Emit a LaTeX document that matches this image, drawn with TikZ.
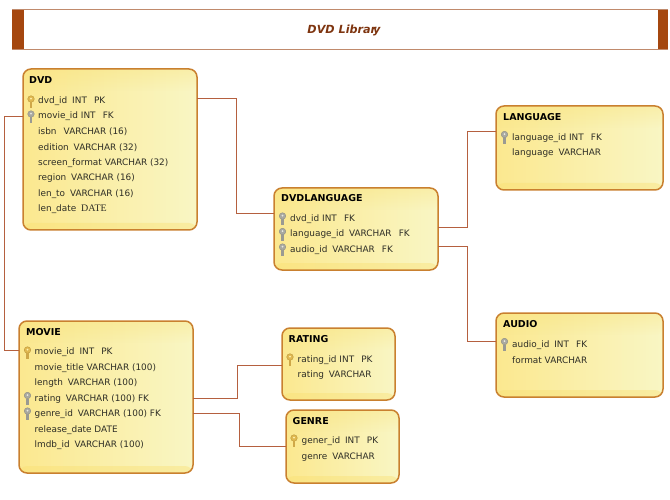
\documentclass[tikz,border=0pt]{standalone}
\usepackage{fontspec}
\usetikzlibrary{fadings}
\setmainfont{DejaVu Sans}
\definecolor{brown1}{HTML}{A5470F}
\definecolor{edge}{HTML}{C9802F}
\definecolor{conn}{HTML}{B5603F}
\definecolor{titlec}{HTML}{7E3510}
\definecolor{rowc}{HTML}{2E2E26}
\definecolor{fillL}{HTML}{FBE88F}
\definecolor{fillR}{HTML}{F9F6C4}
\definecolor{band}{HTML}{F9DF70}
\definecolor{goldk}{HTML}{E0B850}
\definecolor{goldl}{HTML}{B08A30}
\definecolor{golds}{HTML}{CFA848}
\definecolor{goldh}{HTML}{FFF3B0}
\definecolor{greyk}{HTML}{A9A9A0}
\definecolor{greyl}{HTML}{85857D}
\definecolor{greys}{HTML}{9A9A92}
\definecolor{greyh}{HTML}{E8E8E0}
\definecolor{rulec}{HTML}{C08A6C}
\tikzset{
  tbl/.style={draw=edge,line width=1.5pt,rounded corners=8pt,anchor=north west,outer sep=0pt,inner sep=0pt,
    left color=fillL,right color=fillR,
    path picture={\fill[band,opacity=.4] ([yshift=7pt]path picture bounding box.south west) rectangle (path picture bounding box.south east);
      \fill[band,opacity=.3,path fading=south] (path picture bounding box.north west) rectangle ([yshift=-22pt]path picture bounding box.north east);}},
  head/.style={anchor=west,inner sep=0pt,font=\fontsize{9.5}{11}\bfseries,text=black},
  rowt/.style={anchor=west,inner sep=0pt,font=\fontsize{8.9}{11}\selectfont,text=rowc},
  link/.style={draw=conn,line width=1pt},
  keygold/.pic={\fill[goldk,draw=goldl,line width=.3pt] (0,-3) circle (3.3);
     \fill[golds] (-1.1,0) rectangle (1.1,6.4);\fill[goldh] (0,-3.4) circle (1);},
  keygrey/.pic={\fill[greyk,draw=greyl,line width=.3pt] (0,-3) circle (3.3);
     \fill[greys] (-1.1,0) rectangle (1.1,6.4);\fill[greyh] (0,-3.4) circle (1);},
}
\newcommand{\sep}{\hspace{.55em}}
\newcommand{\gap}{\hspace{.8em}}
\begin{document}
\begin{tikzpicture}[x=1pt,y=-1pt]
\useasboundingbox (0,0) rectangle (670,500);
% title band
\fill[brown1] (12,9.5) rectangle (24,49.5);
\fill[brown1] (658,9.5) rectangle (668,49.5);
\draw[rulec,line width=.8pt] (12,9.5) -- (668,9.5);
\draw[rulec,line width=.8pt] (12,49.5) -- (668,49.5);
\node[font=\fontsize{11.2}{13}\bfseries\itshape,text=titlec,inner sep=0pt] (title) at (344,30.5) {DVD Librar\kern-3pt y};
% tables
\node[tbl,minimum width=174pt,minimum height=161pt] (dvd) at (23,69) {};
\node[tbl,minimum width=174pt,minimum height=152pt] (movie) at (19,321) {};
\node[tbl,minimum width=113pt,minimum height=72pt] (rating) at (282,328) {};
\node[tbl,minimum width=113pt,minimum height=73pt] (genre) at (286,410) {};
\node[tbl,minimum width=164pt,minimum height=82pt] (dvdlang) at (274,188) {};
\node[tbl,minimum width=167pt,minimum height=84pt] (language) at (496,106) {};
\node[tbl,minimum width=167pt,minimum height=84pt] (audio) at (496,313) {};
% connectors
\draw[link] ([yshift=-29.5pt]dvd.north east) -- ++(39,0) |- ([yshift=-26pt]dvdlang.north west);
\draw[link] ([yshift=-48pt]dvd.north west) -- ++(-19,0) |- ([yshift=-29pt]movie.north west);
\draw[link] ([yshift=-77pt]movie.north east) -- ++(44.5,0) |- ([yshift=-37pt]rating.north west);
\draw[link] ([yshift=-92pt]movie.north east) -- ++(46,0) |- ([yshift=-36pt]genre.north west);
\draw[link] ([yshift=-40pt]dvdlang.north east) -- ++(29,0) |- ([yshift=-26pt]language.north west);
\draw[link] ([yshift=-58pt]dvdlang.north east) -- ++(29,0) |- ([yshift=-28pt]audio.north west);
% DVD
\node[head] (h1) at (29,80) {DVD};
\node[rowt] (a1) at (38,101) {dvd\_id\sep INT\gap PK};
\node[rowt] (a2) at (38,116.5) {movie\_id INT\gap FK};
\node[rowt] (a3) at (38,132) {isbn\gap VARCHAR (16)};
\node[rowt] (a4) at (38,147.5) {edition\sep VARCHAR (32)};
\node[rowt] (a5) at (38,163) {screen\_format VARCHAR (32)};
\node[rowt] (a6) at (38,178.5) {region\sep VARCHAR (16)};
\node[rowt] (a7) at (38,194) {len\_to\sep VARCHAR (16)};
\node[rowt] (a8) at (38,209.5) {len\_date\sep {\fontspec{Liberation Serif}\fontsize{10}{11}\selectfont DATE}};
\pic at (31,102) {keygold};
\pic at (31,117) {keygrey};
% MOVIE
\node[head] (h2) at (26,332) {MOVIE};
\node[rowt] (b1) at (34.5,352.5) {movie\_id\sep INT\gap PK};
\node[rowt] (b2) at (34.5,368) {movie\_title VARCHAR (100)};
\node[rowt] (b3) at (34.5,383.5) {length\sep VARCHAR (100)};
\node[rowt] (b4) at (34.5,399) {rating\sep VARCHAR (100) FK};
\node[rowt] (b5) at (34.5,414.5) {genre\_id\sep VARCHAR (100) FK};
\node[rowt] (b6) at (34.5,430) {release\_date DATE};
\node[rowt] (b7) at (34.5,445.5) {lmdb\_id\sep VARCHAR (100)};
\pic at (27.5,353) {keygold};
\pic at (27.5,398.5) {keygrey};
\pic at (27.5,414) {keygrey};
% RATING
\node[head] (h3) at (288.5,339) {RATING};
\node[rowt] (c1) at (297.5,360) {rating\_id INT\gap PK};
\node[rowt] (c2) at (297.5,375.5) {rating\sep VARCHAR};
\pic at (290,360) {keygold};
% GENRE
\node[head] (h4) at (292.5,421) {GENRE};
\node[rowt] (d1) at (301.5,441.5) {gener\_id\sep INT\gap PK};
\node[rowt] (d2) at (301.5,457) {genre\sep VARCHAR};
\pic at (294,441) {keygold};
% DVDLANGUAGE
\node[head] (h5) at (281,198.5) {DVDLANGUAGE};
\node[rowt] (e1) at (290,219) {dvd\_id INT\gap FK};
\node[rowt] (e2) at (290,234.5) {language\_id\sep VARCHAR\gap FK};
\node[rowt] (e3) at (290,250) {audio\_id\sep VARCHAR\gap FK};
\pic at (282.5,219) {keygrey};
\pic at (282.5,234.5) {keygrey};
\pic at (282.5,250) {keygrey};
% LANGUAGE
\node[head] (h6) at (503,117.5) {LANGUAGE};
\node[rowt] (f1) at (512,138) {language\_id INT\gap FK};
\node[rowt] (f2) at (512,153.5) {language\sep VARCHAR};
\pic at (504.5,137.5) {keygrey};
% AUDIO
\node[head] (h7) at (503,324.5) {AUDIO};
\node[rowt] (g1) at (512,345) {audio\_id\sep INT\gap FK};
\node[rowt] (g2) at (512,360.5) {format VARCHAR};
\pic at (504.5,344.5) {keygrey};
\end{tikzpicture}
\end{document}
